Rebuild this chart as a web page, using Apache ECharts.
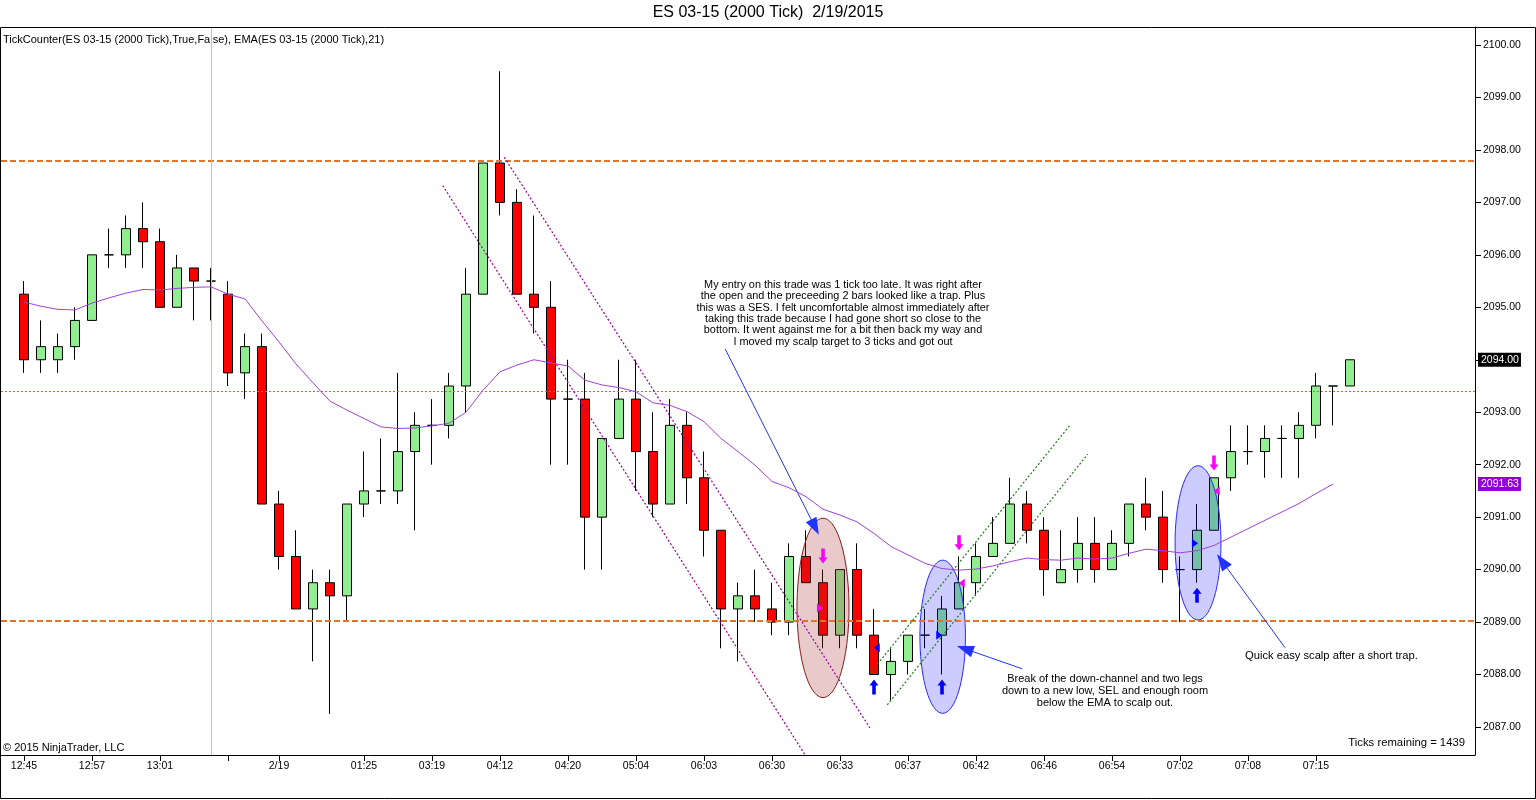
<!DOCTYPE html>
<html>
<head>
<meta charset="utf-8">
<title>ES 03-15 (2000 Tick) 2/19/2015</title>
<script src="https://cdn.jsdelivr.net/npm/echarts@6.0.0/dist/echarts.min.js"></script>
<style>
    html, body { margin: 0; padding: 0; background: #fff; }
    #main { width: 1536px; height: 800px; }
</style>
</head>
<body>
<div id="main"></div>
<script>
// 价格数据（每根K线：开、收、低、高），按顺序 0..78
var opens = [2095.25, 2094.00, 2094.00, 2094.25, 2094.75, 2096.00, 2096.00, 2096.50, 2096.25, 2095.00,
    2095.75, 2095.50, 2095.25, 2093.75, 2094.25, 2091.25, 2090.25, 2089.25, 2089.75, 2089.50,
    2091.25, 2091.50, 2091.50, 2092.25, 2092.75, 2092.75, 2093.50, 2095.25, 2097.75, 2097.00,
    2095.25, 2095.00, 2093.25, 2093.25, 2091.00, 2092.50, 2093.25, 2092.25, 2091.25, 2092.75,
    2091.75, 2090.75, 2089.25, 2089.50, 2089.25, 2089.00, 2090.25, 2089.75, 2088.75, 2090.00,
    2088.75, 2088.00, 2088.25, 2088.75, 2088.75, 2089.25, 2089.75, 2090.25, 2090.50, 2091.25,
    2090.75, 2089.75, 2090.00, 2090.50, 2090.00, 2090.50, 2091.25, 2091.00, 2090.00, 2090.00,
    2090.75, 2091.75, 2092.25, 2092.25, 2092.50, 2092.50, 2092.75, 2093.50, 2093.50];
var closes = [2094.00, 2094.25, 2094.25, 2094.75, 2096.00, 2096.00, 2096.50, 2096.25, 2095.00, 2095.75,
    2095.50, 2095.50, 2093.75, 2094.25, 2091.25, 2090.25, 2089.25, 2089.75, 2089.50, 2091.25,
    2091.50, 2091.50, 2092.25, 2092.75, 2092.75, 2093.50, 2095.25, 2097.75, 2097.00, 2095.25,
    2095.00, 2093.25, 2093.25, 2091.00, 2092.50, 2093.25, 2092.25, 2091.25, 2092.75, 2091.75,
    2090.75, 2089.25, 2089.50, 2089.25, 2089.00, 2090.25, 2089.75, 2088.75, 2090.00, 2088.75,
    2088.00, 2088.25, 2088.75, 2088.75, 2089.25, 2089.75, 2090.25, 2090.50, 2091.25, 2090.75,
    2090.00, 2090.00, 2090.50, 2090.00, 2090.50, 2091.25, 2091.00, 2090.00, 2090.00, 2090.75,
    2091.75, 2092.25, 2092.25, 2092.50, 2092.50, 2092.75, 2093.50, 2093.50, 2094.00];
var lows = [2093.75, 2093.75, 2093.75, 2094.00, 2094.75, 2095.75, 2095.75, 2095.75, 2095.00, 2095.00,
    2094.75, 2094.75, 2093.50, 2093.25, 2091.25, 2090.00, 2089.25, 2088.25, 2087.25, 2089.00,
    2091.00, 2091.25, 2091.25, 2090.75, 2092.00, 2092.50, 2093.00, 2095.25, 2096.75, 2095.25,
    2094.50, 2092.00, 2092.00, 2090.00, 2090.00, 2092.50, 2091.50, 2091.00, 2091.25, 2091.25,
    2090.25, 2088.50, 2088.25, 2089.00, 2088.75, 2088.75, 2089.75, 2088.50, 2088.50, 2088.50,
    2088.00, 2087.50, 2088.00, 2088.50, 2088.00, 2089.25, 2089.50, 2090.25, 2090.50, 2090.50,
    2089.50, 2089.75, 2089.75, 2089.75, 2090.00, 2090.25, 2090.75, 2089.75, 2089.00, 2089.75,
    2090.75, 2091.50, 2092.00, 2091.75, 2091.75, 2091.75, 2092.50, 2092.75, 2093.50];
var highs = [2095.50, 2094.75, 2094.50, 2095.00, 2096.00, 2096.50, 2096.75, 2097.00, 2096.50, 2096.00,
    2095.75, 2095.75, 2095.50, 2094.50, 2094.50, 2091.50, 2090.75, 2090.00, 2090.00, 2091.25,
    2092.25, 2092.50, 2093.75, 2093.00, 2093.25, 2093.75, 2095.75, 2097.75, 2099.50, 2097.25,
    2096.75, 2095.50, 2094.00, 2093.75, 2092.50, 2094.00, 2094.00, 2093.00, 2093.25, 2093.00,
    2092.25, 2090.75, 2089.75, 2090.00, 2089.75, 2090.50, 2090.75, 2090.00, 2090.00, 2090.50,
    2089.25, 2088.50, 2088.75, 2089.25, 2089.50, 2090.25, 2090.50, 2091.00, 2091.75, 2091.50,
    2091.00, 2090.75, 2091.00, 2091.00, 2090.75, 2091.25, 2091.75, 2091.50, 2090.25, 2091.25,
    2091.75, 2092.75, 2092.75, 2092.75, 2092.75, 2093.00, 2093.75, 2093.50, 2094.00];

// EMA(21)，从图上读出（最后一根没有）
var ema = [2095.10, 2095.02, 2094.96, 2094.95, 2095.08, 2095.18, 2095.27, 2095.34, 2095.33, 2095.36,
    2095.38, 2095.39, 2095.25, 2095.16, 2094.74, 2094.34, 2093.92, 2093.56, 2093.21, 2093.04,
    2092.88, 2092.72, 2092.69, 2092.70, 2092.74, 2092.79, 2093.00, 2093.42, 2093.77, 2093.90,
    2094.00, 2093.94, 2093.88, 2093.61, 2093.52, 2093.47, 2093.39, 2093.18, 2093.13, 2093.01,
    2092.82, 2092.50, 2092.25, 2091.99, 2091.68, 2091.56, 2091.39, 2091.15, 2091.04, 2090.91,
    2090.69, 2090.44, 2090.28, 2090.12, 2090.02, 2089.99, 2090.01, 2090.07, 2090.15, 2090.22,
    2090.19, 2090.18, 2090.22, 2090.20, 2090.22, 2090.31, 2090.39, 2090.36, 2090.32, 2090.36,
    2090.46, 2090.62, 2090.78, 2090.94, 2091.10, 2091.26, 2091.45, 2091.63];

// 时间轴刻度（K线序号 -> 文字，空字符串表示只有刻度线）
var timeTickIdx = [0, 4, 8, 12, 15, 20, 24, 28, 32, 36, 40, 44, 48, 52, 56, 60, 64, 68, 72, 76];
var timeTickText = ['12:45', '12:57', '13:01', '', '2/19', '01:25', '03:19', '04:12', '04:20', '05:04',
    '06:03', '06:30', '06:33', '06:37', '06:42', '06:46', '06:54', '07:02', '07:08', '07:15'];
var priceTicks = [2087, 2088, 2089, 2090, 2091, 2092, 2093, 2094, 2095, 2096, 2097, 2098, 2099, 2100];

// 水平线价位
var levelHigh = 2097.8;
var levelLow = 2089.03;
var levelMid = 2093.4;
var sessionBar = 11;

// 画线（[序号, 价格] -> [序号, 价格]）
var downChannel = [
    [[24.63, 2097.32], [45.94, 2086.47]],
    [[28.25, 2097.86], [49.76, 2086.98]]
];
var upChannel = [
    [[49.76, 2088.02], [61.57, 2092.77]],
    [[50.78, 2087.42], [62.57, 2092.20]]
];
var noteArrows = [
    [[41.24, 2094.21], [46.53, 2090.81]],
    [[58.71, 2088.11], [55.35, 2088.49]],
    [[74.18, 2088.51], [70.47, 2090.16]]
];
// 椭圆：中心序号, 中心价格, 半宽(根), 半高(点), 种类(0红 1蓝)
var ellipses = [
    [47.0, 2089.27, 1.53, 1.71, 0],
    [54.04, 2088.72, 1.34, 1.46, 1],
    [69.06, 2090.51, 1.35, 1.47, 1]
];
// 成交标记
var sellArrows = [[47, 2090.26], [55, 2090.51], [70, 2092.03]];
var buyArrows = [[50, 2087.76], [54, 2087.76], [69, 2089.51]];
var fillRight = [[46.82, 2089.27, 'm'], [53.84, 2088.75, 'b'], [68.88, 2090.5, 'b']];
var fillLeft = [[50.16, 2088.51, 'b'], [55.16, 2089.74, 'm'], [70.16, 2091.5, 'm']];

var note1 = ['My entry on this trade was 1 tick too late. It was right after',
    'the open and the preceeding 2 bars looked like a trap. Plus',
    'this was a SES. I felt uncomfortable almost immediately after',
    'taking this trade because I had gone short so close to the',
    'bottom. It went against me for a bit then back my way and',
    'I moved my scalp target to 3 ticks and got out'];
var note2 = ['Break of the down-channel and two legs',
    'down to a new low, SEL and enough room',
    'below the EMA to scalp out.'];
var note3 = 'Quick easy scalp after a short trap.';

var FONT = '"Liberation Sans", Arial, sans-serif';

// 组装K线数据
var candleData = [];
opens.forEach(function (o, i) {
    candleData.push([i, o, closes[i], lows[i], highs[i]]);
});
var emaData = ema.map(function (v, i) { return [i, v]; });

var tickMap = {};
timeTickIdx.forEach(function (v, i) { tickMap[v] = timeTickText[i]; });

// 右侧价格牌
function priceTag(v, bg) {
    return {
        yAxis: v,
        lineStyle: { color: 'rgba(0,0,0,0)', width: 1, type: 'solid' },
        label: {
            show: true, position: 'end', distance: 3, formatter: v.toFixed(2),
            color: '#fff', backgroundColor: bg, padding: [2, 2, 1, 3], fontSize: 10.5, fontFamily: FONT
        }
    };
}

// 标注线
var orange = '#e07428';
var lines = [
    { yAxis: levelHigh, lineStyle: { color: orange, width: 2, type: [6, 3] } },
    { yAxis: levelLow, lineStyle: { color: orange, width: 2, type: [6, 3] } },
    { yAxis: levelMid, lineStyle: { color: '#d2691e', width: 1, type: [2, 2] } },
    { xAxis: sessionBar, lineStyle: { color: '#c0c0c0', width: 1, type: 'solid' } },
    priceTag(closes[closes.length - 1], '#000'),
    priceTag(ema[ema.length - 1], '#9400d3')
];
downChannel.forEach(function (l) {
    lines.push([{ coord: l[0], lineStyle: { color: '#990099', width: 1.2, type: [2, 2] } }, { coord: l[1] }]);
});
upChannel.forEach(function (l) {
    lines.push([{ coord: l[0], lineStyle: { color: '#1f7a1f', width: 1.2, type: [2, 2] } }, { coord: l[1] }]);
});
noteArrows.forEach(function (l) {
    lines.push([
        { coord: l[0], symbol: 'none', lineStyle: { color: '#2233ff', width: 1, type: 'solid' } },
        { coord: l[1], symbol: 'triangle', symbolSize: [12, 17] }
    ]);
});

function renderEllipse(params, api) {
    var c = api.coord([api.value(0), api.value(1)]);
    var s = api.size([api.value(2), api.value(3)]);
    var pts = [];
    for (var k = 0; k < 72; k++) {
        var a = k / 72 * Math.PI * 2;
        pts.push([c[0] + s[0] * Math.cos(a), c[1] + s[1] * Math.sin(a)]);
    }
    var red = api.value(4) === 0;
    return {
        type: 'polygon',
        shape: { points: pts },
        style: {
            fill: red ? 'rgba(165,42,42,0.25)' : 'rgba(0,0,255,0.2)',
            stroke: red ? '#8b1a1a' : '#2a2aff',
            lineWidth: 1
        }
    };
}

var upPath = 'path://M5,0L10,6L7,6L7,15L3,15L3,6L0,6Z';
var downPath = 'path://M3,0L7,0L7,9L10,9L5,15L0,9L3,9Z';
var rightPath = 'path://M0,0L8,5L0,10Z';
var leftPath = 'path://M8,0L0,5L8,10Z';
function markColor(c) { return c === 'm' ? '#ff00ff' : '#0000ff'; }

var textStyle = function (txt, extra) {
    var s = { text: txt, fill: '#000', font: '11px ' + FONT };
    for (var k in extra) s[k] = extra[k];
    return s;
};

var option = {
    backgroundColor: '#fff',
    animation: false,
    grid: { left: 1, right: 61, top: 27, bottom: 45, containLabel: false, outerBoundsMode: 'none' },
    xAxis: {
        type: 'value',
        min: -23 / 17,
        max: -23 / 17 + 1474 / 17,
        splitLine: { show: false },
        axisLine: { show: true, onZero: false, lineStyle: { color: '#000', width: 1 } },
        axisTick: { show: true, length: 6, lineStyle: { color: '#000' }, customValues: timeTickIdx },
        axisLabel: {
            customValues: timeTickIdx, margin: 6, color: '#000', fontSize: 10.5, fontFamily: FONT,
            formatter: function (v) { return tickMap[v] || ''; }
        }
    },
    yAxis: {
        type: 'value',
        position: 'right',
        scale: true,
        min: 2100 - (755 - 45) / 52.46,
        max: 2100 + (45 - 27) / 52.46,
        splitLine: { show: false },
        axisLine: { show: true, onZero: false, lineStyle: { color: '#000', width: 1 } },
        axisTick: { show: true, length: 6, lineStyle: { color: '#000' }, customValues: priceTicks },
        axisLabel: {
            customValues: priceTicks, margin: 8, color: '#000', fontSize: 10.5, fontFamily: FONT,
            formatter: function (v) { return v.toFixed(2); }
        }
    },
    series: [
        {
            type: 'candlestick',
            data: candleData,
            encode: { x: 0, y: [1, 2, 3, 4] },
            barWidth: 10,
            z: 2,
            itemStyle: {
                color: '#90ee90', color0: '#ff0000',
                borderColor: '#000', borderColor0: '#000', borderColorDoji: '#000', borderWidth: 1
            }
        },
        {
            type: 'custom',
            data: ellipses,
            encode: { x: 0, y: 1 },
            renderItem: renderEllipse,
            silent: true,
            z: 3
        },
        {
            type: 'scatter', data: sellArrows, symbol: downPath, symbolSize: [9, 15],
            itemStyle: { color: '#ff00ff', opacity: 1 }, z: 4, silent: true
        },
        {
            type: 'scatter', data: buyArrows, symbol: upPath, symbolSize: [9, 15],
            itemStyle: { color: '#0000ff', opacity: 1 }, z: 4, silent: true
        },
        {
            type: 'scatter', symbol: rightPath, symbolSize: [6, 9], z: 4, silent: true,
            data: fillRight.map(function (d) { return { value: [d[0], d[1]], itemStyle: { color: markColor(d[2]), opacity: 1 } }; })
        },
        {
            type: 'scatter', symbol: leftPath, symbolSize: [6, 9], z: 4, silent: true,
            data: fillLeft.map(function (d) { return { value: [d[0], d[1]], itemStyle: { color: markColor(d[2]), opacity: 1 } }; })
        },
        {
            type: 'line',
            data: emaData,
            symbol: 'none',
            z: 5,
            lineStyle: { color: '#a040e0', width: 1 },
            markLine: {
                silent: true,
                symbol: 'none',
                label: { show: false },
                emphasis: { disabled: true },
                data: lines
            }
        }
    ],
    graphic: [
        { type: 'rect', shape: { x: 0.5, y: 27.5, width: 1535, height: 771 }, style: { fill: 'none', stroke: '#000', lineWidth: 1 }, z: 100, silent: true },
        { type: 'text', x: 768, y: 13, style: textStyle('ES 03-15 (2000 Tick)  2/19/2015', { font: '16px ' + FONT, textAlign: 'center', textVerticalAlign: 'middle' }) },
        { type: 'text', x: 3, y: 39.5, style: textStyle('TickCounter(ES 03-15 (2000 Tick),True,False), EMA(ES 03-15 (2000 Tick),21)', { textVerticalAlign: 'middle' }) },
        { type: 'text', x: 3, y: 748, style: textStyle('© 2015 NinjaTrader, LLC', { textVerticalAlign: 'middle' }) },
        { type: 'text', x: 1465, y: 743, style: textStyle('Ticks remaining = 1439', { textAlign: 'right', textVerticalAlign: 'middle', font: '11.3px ' + FONT }) },
        { type: 'text', x: 843, y: 279, style: textStyle(note1.join('\n'), { textAlign: 'center', textVerticalAlign: 'top', lineHeight: 11.4, font: '10.9px ' + FONT }) },
        { type: 'text', x: 1105, y: 673, style: textStyle(note2.join('\n'), { textAlign: 'center', textVerticalAlign: 'top', lineHeight: 12 }) },
        { type: 'text', x: 1245, y: 656, style: textStyle(note3, { textVerticalAlign: 'middle', font: '11.2px ' + FONT }) }
    ]
};

var myChart = echarts.init(document.getElementById('main'));
myChart.setOption(option);
</script>
</body>
</html>
